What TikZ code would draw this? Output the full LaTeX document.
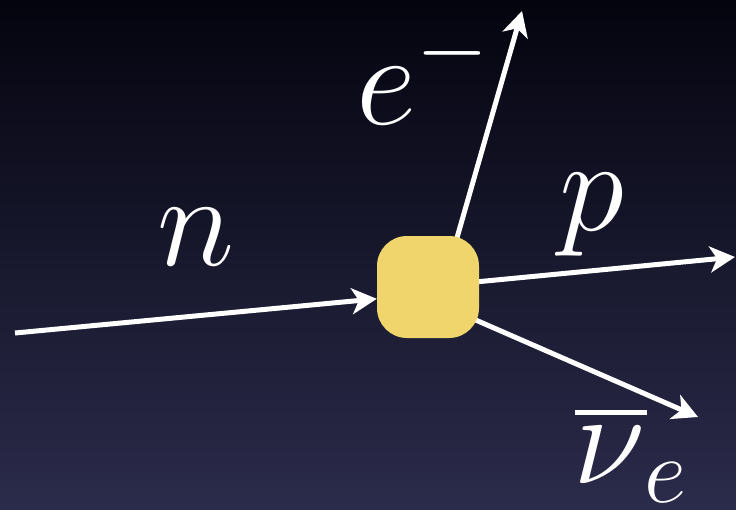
\documentclass[tikz,border=0pt]{standalone}
\usepackage{fix-cm}
\usepackage{amsmath}
\usepackage{xcolor}
\usepackage{tikz}
\usetikzlibrary{arrows.meta,calc,backgrounds}

\definecolor{bgtop}{HTML}{04040F}
\definecolor{bgbot}{HTML}{2B2B4B}
\definecolor{vtxyellow}{HTML}{F0D46C}

\begin{document}
\begin{tikzpicture}[
      x=1pt, y=-1pt,
      vertex/.style={fill=vtxyellow, rounded corners=30pt, minimum size=102pt,
                     inner sep=0pt},
      arr/.style={-{Stealth[length=25pt, width=26pt, inset=7pt]},
                  line width=5pt, white},
      lbl/.style={text=white, inner sep=0pt, font=\fontsize{132}{140}\selectfont},
    ]
    \useasboundingbox (0,0) rectangle (736,509);
    \node[vertex] (vtx) at (428,287) {};
    \coordinate (nin) at (15,333);
    \coordinate (eout) at (522,11);
    \coordinate (pout) at (735,257);
    \coordinate (nuout) at (698,417);
    \node[lbl, anchor=base] (nlbl) at (196,265) {$n$};
    \node[lbl, anchor=base west] (elbl) at (356,124) {$e^-$};
    \node[lbl, anchor=base] (plbl) at (592,230) {$p$};
    \node[lbl, anchor=base west] (nulbl) at (573,483)
      {\rlap{\hspace*{2pt}\rule[68.5pt]{72pt}{5pt}}$\nu_{\mkern1.5mu e}$};
    \draw[arr] (nin) -- (vtx.193);
    % outgoing lines start under the vertex
    \begin{pgfonlayer}{background}
      \shade[top color=bgtop, bottom color=bgbot] (0,0) rectangle (736,509);
      \draw[arr] ($(eout)!1.05!(vtx.60)$) -- (eout);
      \draw[arr] ($(pout)!1.05!(vtx.6)$) -- (pout);
      \draw[arr] ($(nuout)!1.05!(vtx.-34)$) -- (nuout);
    \end{pgfonlayer}
  \end{tikzpicture}
\end{document}
